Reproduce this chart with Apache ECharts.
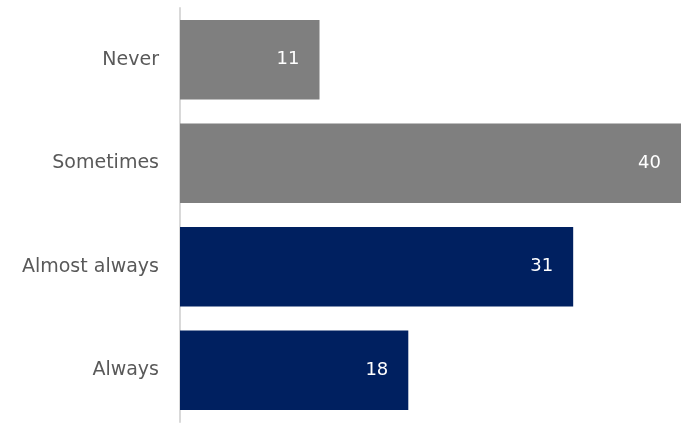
<!DOCTYPE html>
<html lang="en">
<head>
    <meta charset="UTF-8">
    <script src="https://cdn.jsdelivr.net/npm/echarts/dist/echarts.min.js"></script>
    <style>
        body, html { margin: 0; padding: 0; background: #fff; }
        #chart { width: 681px; height: 423px; }
    </style>
</head>
<body>
    <div id="chart"></div>
    <script>
        // top to bottom as shown
        const categories = ['Never', 'Sometimes', 'Almost always', 'Always'];
        const values = [11, 40, 31, 18];
        const barColors = ['#7f7f7f', '#7f7f7f', '#002060', '#002060'];

        const chart = echarts.init(document.getElementById('chart'));
        chart.setOption({
            animation: false,
            grid: { left: 180, right: 0, top: 8, bottom: 1 },
            xAxis: {
                type: 'value',
                min: 0,
                max: 39.5, // the 40 bar runs off the right edge in the original
                show: false
            },
            yAxis: {
                type: 'category',
                inverse: true,
                data: categories,
                axisLine: { show: true, lineStyle: { color: '#d9d9d9', width: 2 } },
                axisTick: { show: false },
                axisLabel: {
                    color: '#595959',
                    fontFamily: 'DejaVu Sans',
                    fontSize: 19,
                    margin: 21
                }
            },
            series: [{
                type: 'bar',
                barCategoryGap: '23%',
                data: values.map((v, i) => ({ value: v, itemStyle: { color: barColors[i] } })),
                label: {
                    show: true,
                    position: 'insideRight',
                    distance: 20,
                    color: '#fff',
                    fontFamily: 'DejaVu Sans',
                    fontSize: 18
                }
            }]
        });
    </script>
</body>
</html>
